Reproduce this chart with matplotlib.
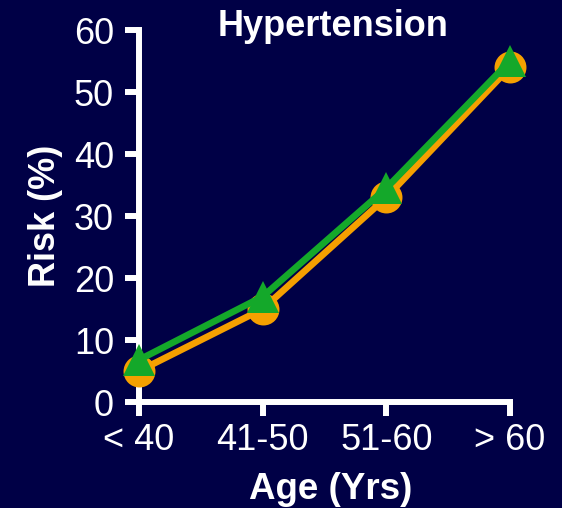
import matplotlib
matplotlib.use("Agg")
import matplotlib.pyplot as plt

categories = ["< 40", "41-50", "51-60", "> 60"]
risk_orange = [5, 15, 33, 54]
risk_green = [6.8, 17, 34.5, 55]
yticks = [0, 10, 20, 30, 40, 50, 60]

BG = "#000046"
ORANGE = "#F5A000"
GREEN = "#14A82A"

plt.rcParams['font.family'] = ['Liberation Sans', 'DejaVu Sans']

fig = plt.figure(figsize=(5.62, 5.08), dpi=100, facecolor=BG)
ax = fig.add_axes([139/562, 1-402/508, 371/562, 372/508], facecolor=BG)

x = list(range(len(categories)))
ax.plot(x, risk_orange, color=ORANGE, lw=4.8, marker='o', ms=23,
        markeredgewidth=0, zorder=3, clip_on=False)
ax.plot(x, risk_green, color=GREEN, lw=4.8, marker='^', ms=23,
        markeredgewidth=0, zorder=4, clip_on=False)

ax.set_xlim(0, 3)
ax.set_ylim(0, 60)
ax.set_xticks(x)
ax.set_xticklabels(categories)
ax.set_yticks(yticks)

for s in ['top', 'right']:
    ax.spines[s].set_visible(False)
for s in ['left', 'bottom']:
    ax.spines[s].set_color('white')
    ax.spines[s].set_linewidth(4.3)
    ax.spines[s].set_capstyle('projecting')

ax.tick_params(axis='both', colors='white', length=10, width=4.3,
               labelsize=26, direction='out')
ax.tick_params(axis='y', pad=8)
ax.tick_params(axis='x', pad=5)

ax.set_xlabel("Age (Yrs)", color='white', fontsize=26.5, fontweight='bold',
              labelpad=10)
ax.xaxis.label.set_x((331-139)/371)
ax.set_ylabel("Risk (%)", color='white', fontsize=26, fontweight='bold',
              labelpad=8)
fig.text(333/562, 1-36/508, "Hypertension", color='white', fontsize=26,
         fontweight='bold', ha='center', va='baseline')

fig.savefig("out.png", dpi=100, facecolor=BG)
